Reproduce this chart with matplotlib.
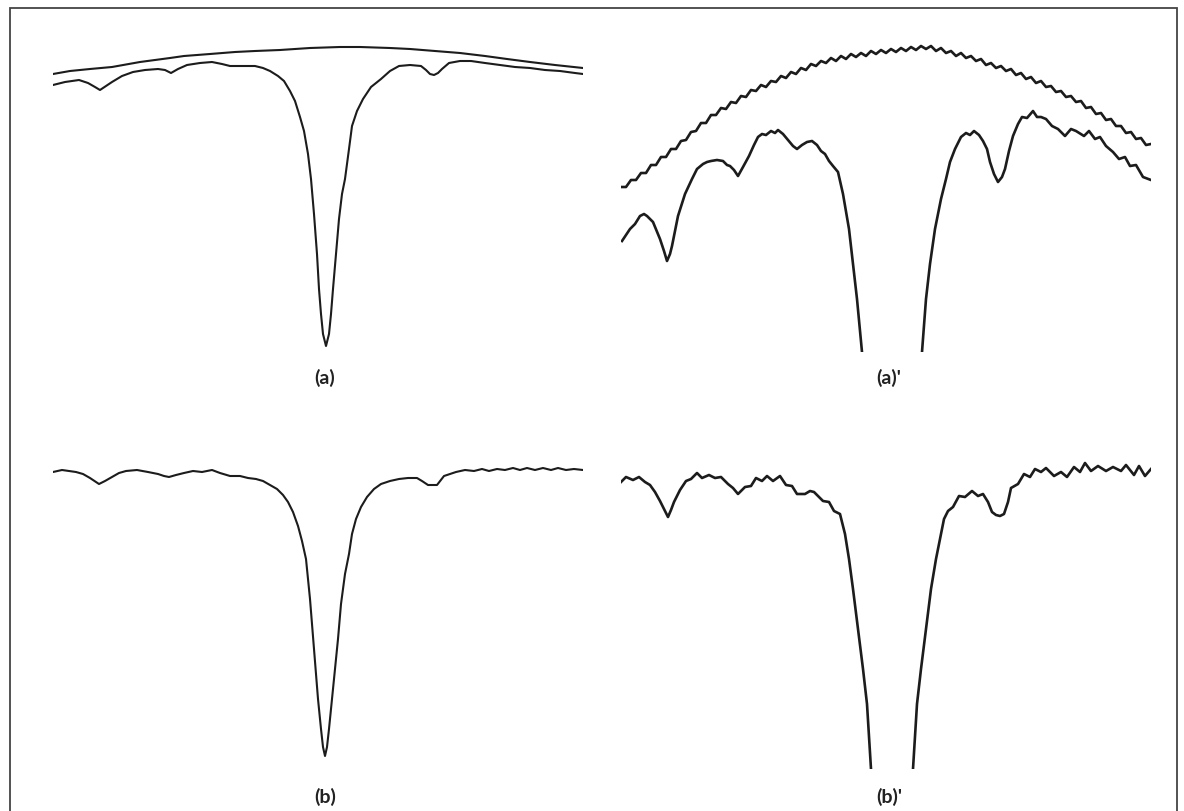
import numpy as np
import matplotlib.pyplot as plt
from matplotlib.patches import Rectangle

W, H = 1184, 812
nan = np.nan

# Channel number (0-530) and absorption depth (arb. units, larger = deeper)

# (a) reference (no absorber) and sample spectrum
a_ref_ch = [0, 17, 37, 59, 87, 117, 131, 157, 182, 202, 227, 257, 287, 307, 337,
            357, 382, 407, 432, 454, 477, 502, 530]
a_ref_abs = [35, 32, 30, 28, 23, 19, 17, 15, 13, 12, 11, 9, 8, 8, 9,
             10, 12, 14, 17, 20, 23, 26, 29]
a_ch = [0, 12, 26, 35, 42, 47, 53, 59, 69, 80, 92, 105, 112, 118, 125, 134, 147, 159,
        169, 177, 189, 202, 210, 217, 225, 231, 237, 242, 247, 251, 255, 258, 261, 264,
        266, 268, 270, 273, 276, 278, 280, 283, 286, 289, 292, 296, 299, 304, 310, 318,
        328, 337, 346, 357, 368, 373, 377, 381, 385, 389, 396, 407, 418, 432, 447, 462,
        477, 492, 507, 522, 530]
a_abs = [46, 43, 41, 44, 48, 51, 47, 43, 37, 33, 31, 30, 31, 34, 30, 26, 24, 23,
         25, 27, 27, 27, 29, 32, 37, 42, 52, 62, 78, 92, 115, 140, 175, 215,
         250, 275, 295, 307, 295, 275, 250, 215, 180, 155, 140, 110, 87, 72, 60, 48,
         40, 32, 27, 26, 27, 31, 35, 36, 34, 30, 24, 22, 22, 24, 26, 28,
         29, 31, 32, 34, 35]

# (a)' same spectra, vertical scale expanded
ap_ref_ch = list(range(0, 531, 5))
ap_ref_abs = [148, 148, 141, 141, 134, 134, 126, 126, 118, 118,
              110, 110, 102, 101, 93, 92, 84, 84, 76, 76,
              69, 70, 63, 64, 57, 58, 51, 52, 46, 48,
              42, 43, 37, 39, 33, 35, 29, 31, 25, 27,
              22, 24, 19, 22, 17, 20, 15, 18, 14, 17,
              12, 15, 11, 14, 10, 13, 9, 12, 8, 11,
              7, 10, 7, 12, 9, 14, 12, 17, 14, 19,
              17, 22, 20, 26, 24, 29, 27, 32, 30, 36,
              34, 40, 38, 44, 42, 48, 47, 53, 52, 58,
              57, 63, 62, 69, 68, 75, 74, 81, 80, 87,
              87, 94, 93, 100, 99, 106, 105]
ap_ch = [1, 9, 14, 19, 23, 26, 32, 39, 43, 46, 49, 51, 57, 64, 71, 76, 82, 86, 90, 96,
         102, 106, 109, 113, 117, 122, 128, 133, 137, 141, 145, 150, 154, 157, 162, 167,
         172, 176, 181, 186, 191, 196, 200, 204, 208, 212, 217, 222, 228, 232, 236, 241,
         271,
         301, 305, 309, 314, 320, 325, 329, 334, 340, 345, 349, 353, 358, 362, 366, 369,
         373, 377, 381, 384, 388, 392, 397, 401, 406, 412, 416, 420, 425, 431, 437, 444,
         450, 455, 463, 468, 474, 479, 485, 492, 498, 504, 509, 515, 522, 530]
ap_abs = [202, 190, 185, 177, 175, 177, 183, 200, 212, 222, 215, 207, 177, 155, 140, 130,
          125, 123, 122, 121, 122, 126, 127, 131, 137, 128, 117, 106, 98, 95, 96, 92, 94,
          91, 95, 101, 107, 110, 106, 103, 102, 106, 112, 115, 122, 127, 133, 155, 190,
          225, 260, 313,
          nan,
          313, 260, 225, 190, 160, 140, 123, 110, 98, 94, 96, 92, 96, 102, 110, 123,
          135, 143, 138, 130, 112, 97, 85, 78, 79, 72, 78, 78, 80, 87, 90, 97,
          90, 92, 97, 92, 100, 98, 107, 113, 120, 118, 127, 126, 138, 141]

# (b) corrected spectrum
b_ch = [0, 9, 16, 23, 30, 37, 46, 52, 59, 66, 73, 84, 95, 105, 111, 116, 123, 131, 140,
        149, 159, 167, 177, 187, 195, 203, 210, 217, 224, 230, 235, 240, 245, 249, 253,
        257, 261, 265, 268, 270, 272, 274, 276, 279, 282, 285, 288, 292, 296, 299, 303,
        308, 314, 321, 328, 337, 346, 355, 364, 369, 375, 384, 391, 397, 403, 412, 421,
        429, 436, 444, 452, 460, 467, 474, 482, 490, 498, 505, 513, 521, 530]
b_abs = [33, 31, 32, 33, 35, 39, 45, 42, 38, 34, 32, 31, 33, 35, 37, 38, 36, 34, 32,
         33, 31, 34, 37, 37, 39, 40, 42, 46, 50, 56, 63, 73, 87, 102, 120,
         160, 210, 260, 290, 308, 317, 308, 290, 260, 230, 200, 165, 135, 115, 95, 80,
         68, 58, 50, 45, 42, 40, 39, 39, 42, 46, 46, 37, 35, 33, 31, 32,
         30, 32, 30, 31, 29, 31, 29, 31, 29, 31, 29, 31, 30, 31]

# (b)' corrected spectrum, vertical scale expanded
bp_ch = [0, 5, 12, 18, 24, 29, 34, 39, 43, 47, 50, 53, 59, 65, 70, 76, 81, 88, 94, 100,
         107, 112, 117, 124, 130, 135, 141, 146, 152, 159, 165, 171, 176, 184, 189, 193,
         197, 202, 208, 213, 219, 224, 228, 232, 237, 242, 246, 250,
         271,
         292, 296, 300, 305, 310, 315, 319, 323, 327, 332, 338, 344, 351, 357, 362, 367,
         371, 375, 379, 383, 387, 390, 397, 403, 409, 414, 420, 425, 433, 440, 446, 453,
         459, 464, 470, 477, 485, 492, 500, 505, 513, 518, 524, 530]
bp_abs = [43, 38, 41, 38, 43, 46, 53, 62, 70, 78, 71, 63, 51, 42, 40, 34, 39, 36, 39, 38,
          45, 49, 55, 48, 47, 39, 42, 37, 42, 37, 46, 47, 55, 55, 52, 53,
          57, 62, 63, 72, 75, 95, 120, 150, 190, 230, 265, 330,
          nan,
          330, 265, 230, 190, 150, 120, 100, 80, 72, 68, 57, 58, 52, 57, 55, 63,
          73, 76, 77, 75, 63, 49, 45, 35, 38, 30, 33, 29, 37, 33, 38, 28,
          33, 24, 32, 27, 32, 28, 32, 26, 36, 27, 37, 30]

labels = ["(a)", "(a)'", "(b)", "(b)'"]


def add_panel(fig, left, top, depth):
    ax = fig.add_axes([left / W, 1 - (top + depth) / H, 530 / W, depth / H])
    ax.set_xlim(0, 530)
    ax.set_ylim(depth, 0)
    ax.axis('off')
    return ax


fig = plt.figure(figsize=(W / 100, H / 100), dpi=100)
fig.patch.set_facecolor('white')

ink = '#1c1c1c'

ax_a = add_panel(fig, 53, 40, 313)
ax_a.plot(a_ref_ch, a_ref_abs, color=ink, lw=1.5)
ax_a.plot(a_ch, a_abs, color=ink, lw=1.5)

ax_ap = add_panel(fig, 621, 40, 313)
ax_ap.plot(ap_ref_ch, ap_ref_abs, color=ink, lw=1.9)
ax_ap.plot(ap_ch, ap_abs, color=ink, lw=1.9)

ax_b = add_panel(fig, 53, 440, 330)
ax_b.plot(b_ch, b_abs, color=ink, lw=1.5)

ax_bp = add_panel(fig, 621, 440, 330)
ax_bp.plot(bp_ch, bp_abs, color=ink, lw=1.9)

# panel captions
label_pos = [(325, 378), (889, 378), (325, 797), (889, 797)]
for (px, py), lab in zip(label_pos, labels):
    fig.text(px / W, 1 - py / H, lab, ha='center', va='center',
             fontsize=14, fontweight='bold', family=['Lato', 'DejaVu Sans'], color='#222222')

# frame around the figure
fig.patches.append(Rectangle((10 / W, -0.02), (1177 - 10) / W, 1.02 - 9 / H,
                             transform=fig.transFigure, fill=False,
                             ec='#444444', lw=1.3))

fig.savefig('out.png', dpi=100, facecolor='white')
